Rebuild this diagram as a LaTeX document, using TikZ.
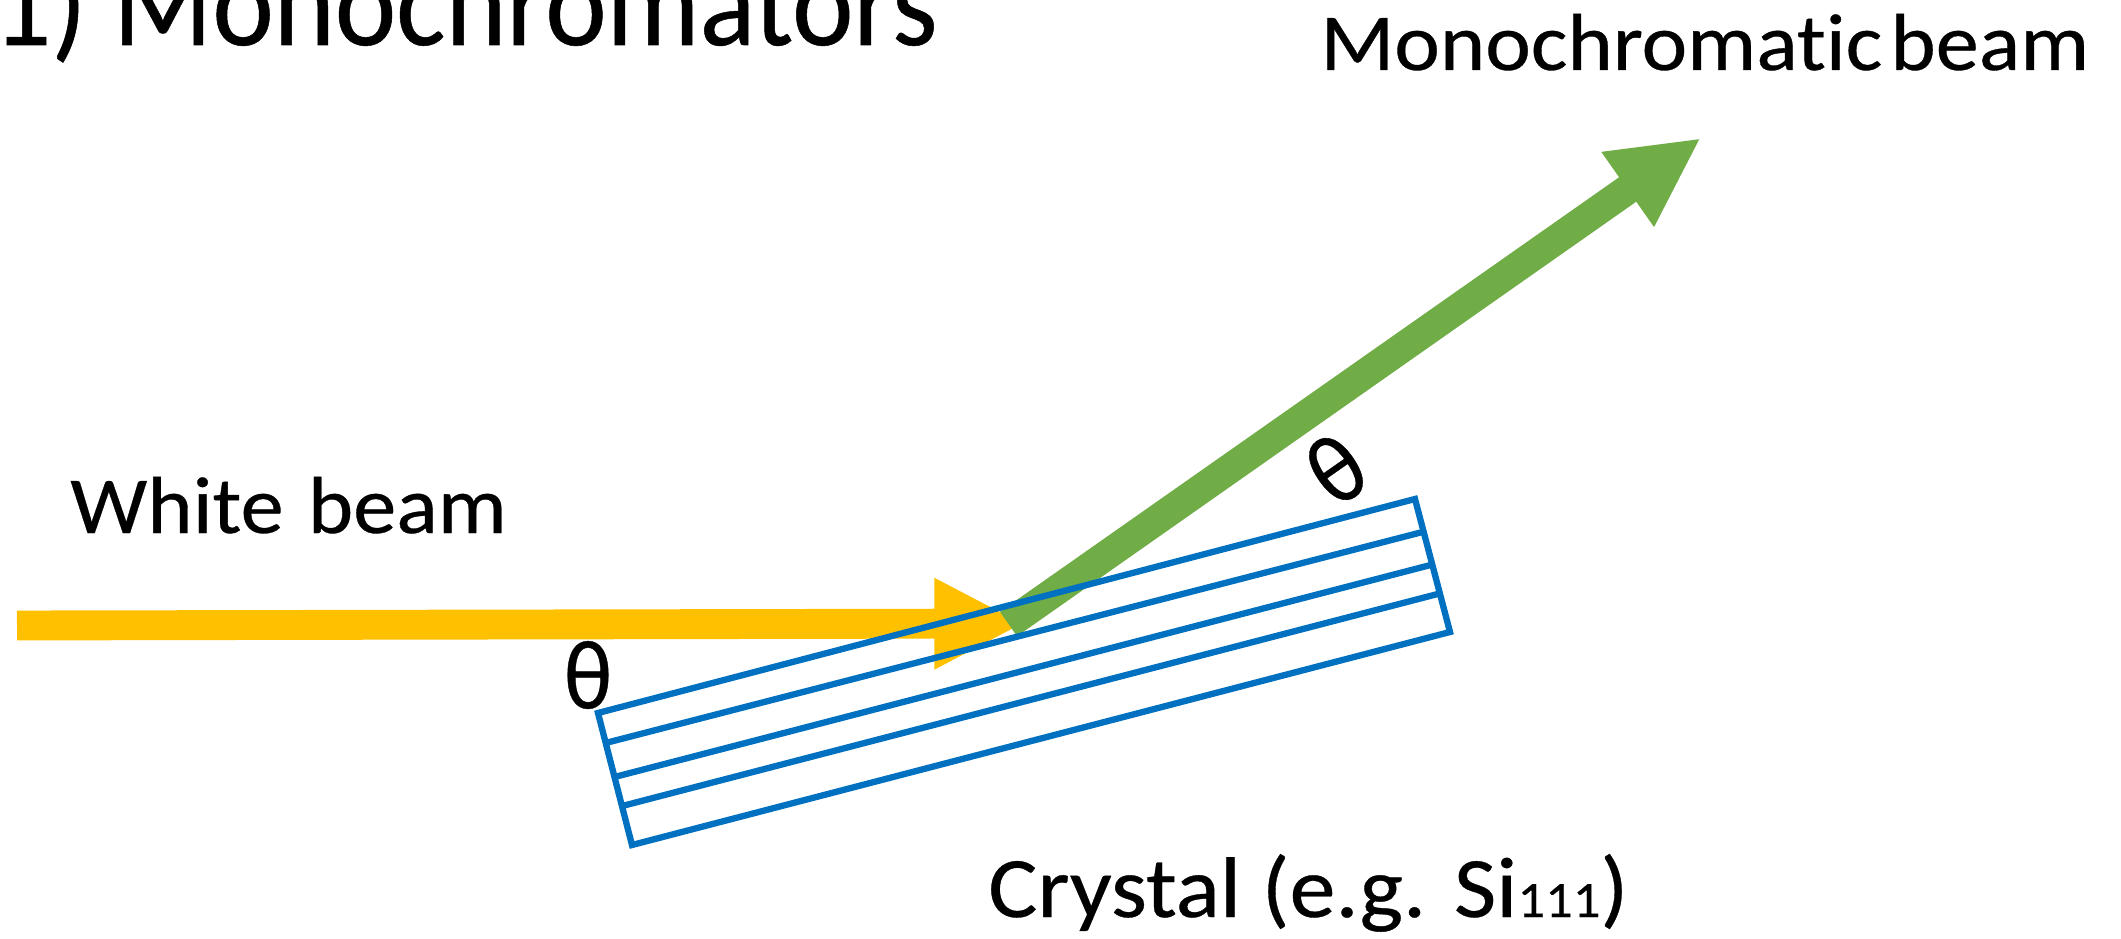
\documentclass[tikz,border=0pt]{standalone}
\usepackage{fontspec}
\setmainfont{Carlito}[Ligatures=NoCommon,FakeStretch=1.07,FakeBold=0.4]
\newfontfamily\narrowfont{Carlito}[Ligatures=NoCommon,FakeStretch=0.92,FakeBold=0.4]
\usepackage{tikz}
\usetikzlibrary{arrows.meta,calc}
\definecolor{beamyellow}{HTML}{FFC000}
\definecolor{beamgreen}{HTML}{70AD47}
\definecolor{crystalblue}{HTML}{0070C0}
\tikzset{
  beamarrow/.style={-{Triangle[length=51pt,width=48.2pt]}, line width=17pt},
  crystalline/.style={draw=crystalblue, line width=3.6pt},
  beamlabel/.style={font=\fontsize{46}{56}\selectfont, anchor=base west, inner sep=0pt},
  anglelabel/.style={font=\narrowfont\fontsize{56}{66}\selectfont, inner sep=0pt}
}

\begin{document}
\begin{tikzpicture}[x=0.02cm, y=-0.02cm]
  \useasboundingbox (0,0) rectangle (2121,939);
  \coordinate (tl) at (598,713);
  \coordinate (tr) at (1415,499);
  \coordinate (br) at (1450,632);
  \coordinate (bl) at (632,845);
  \coordinate (whitestart) at (17,625.5);
  \coordinate (whitetip) at (1024,623.5);
  \coordinate (monostart) at (1008.5,624);
  \coordinate (monotip) at (1701,138);
  \draw[beamarrow, draw=beamyellow, color=beamyellow] (whitestart) -- (whitetip);
  \draw[beamarrow, draw=beamgreen, color=beamgreen] (monostart) -- (monotip);
  \draw[crystalline, line join=miter] (tl) -- (tr) -- (br) -- (bl) -- cycle;
  \foreach \f/\g in {0.227/0.246, 0.485/0.493, 0.705/0.71}
    \draw[crystalline] ($(tl)!\f!(bl)$) -- ($(tr)!\g!(br)$);
  \node[beamlabel, font=\narrowfont\fontsize{72}{86}\selectfont] (title) at (-8,45) {1) Monochromators};
  \node[beamlabel] (mono) at (1320,70) {Monochromatic\hspace{0.1em}beam};
  \node[beamlabel] (white) at (70,533) {White\hspace{0.3em}beam};
  \node[beamlabel, font=\fontsize{49}{58}\selectfont] (crystal) at (988,917) {Crystal (e.g. Si{\fontsize{29}{34}\selectfont 111})};
  \node[anglelabel] (thetaa) at (588,675) {θ};
  \node[anglelabel, rotate=35] (thetab) at (1336,469) {θ};
\end{tikzpicture}
\end{document}
